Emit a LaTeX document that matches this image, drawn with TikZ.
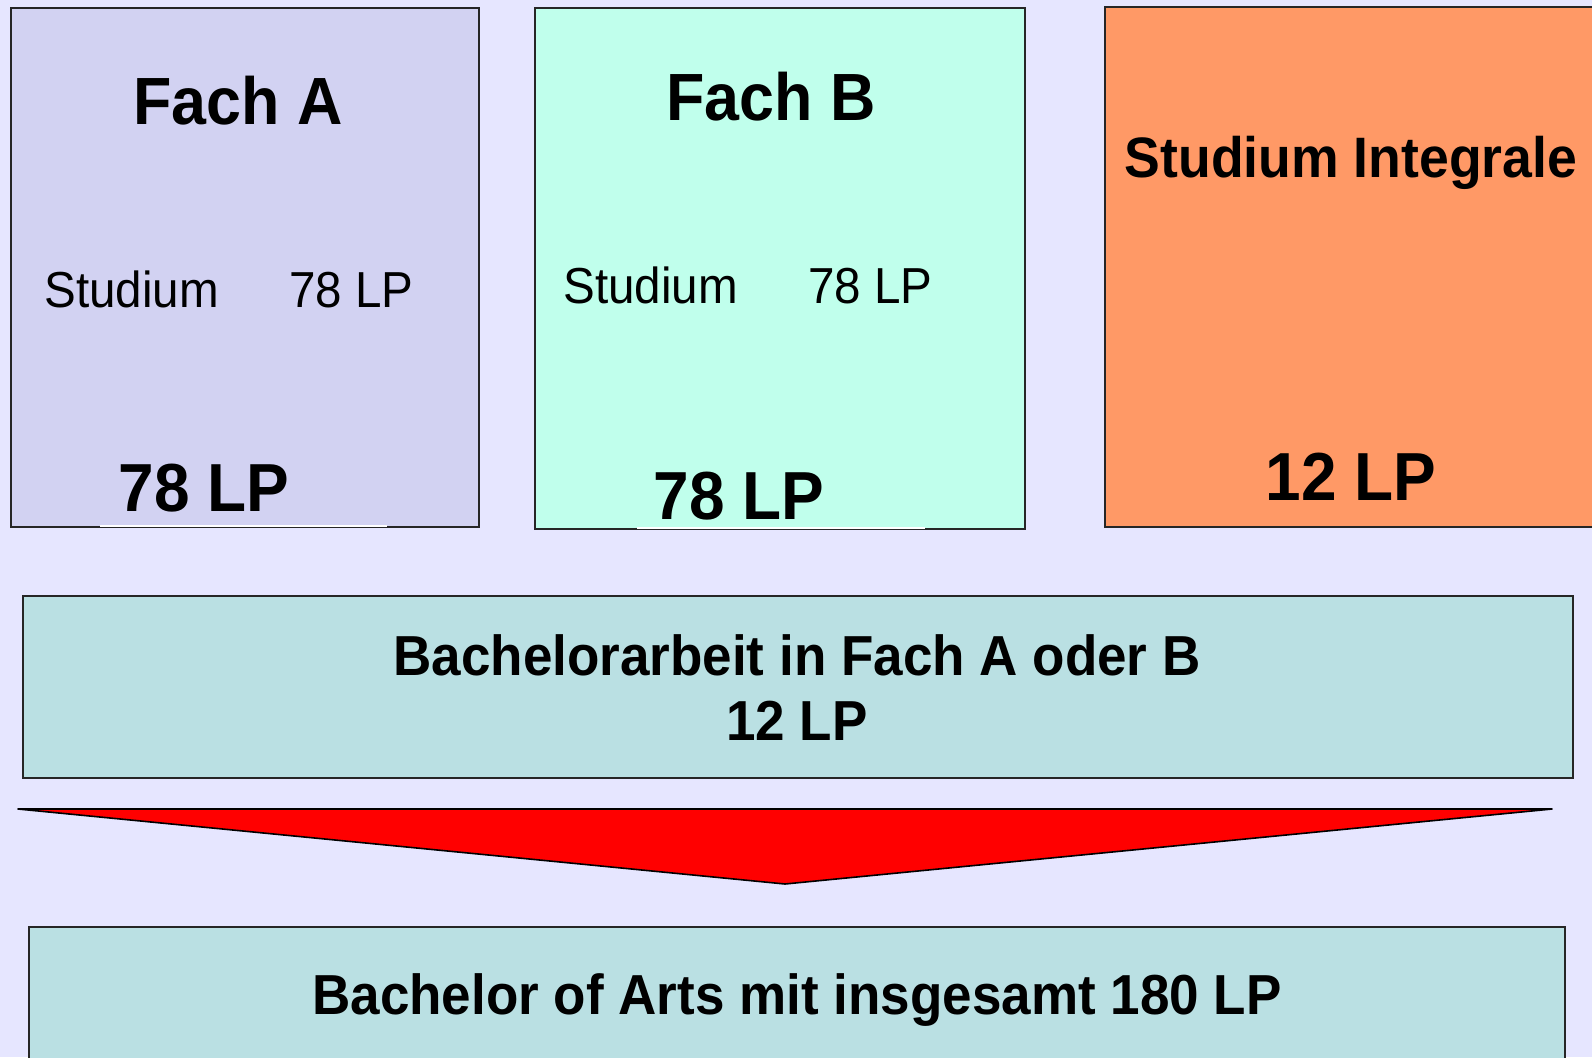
\documentclass[tikz,border=0pt]{standalone}
\usepackage{fontspec}
\setmainfont[FakeStretch=0.94]{Liberation Sans}
\usepackage{xcolor}
\definecolor{bglila}{RGB}{230,230,255}
\definecolor{fachAfill}{RGB}{210,210,242}
\definecolor{fachBfill}{RGB}{192,255,236}
\definecolor{integfill}{RGB}{255,153,102}
\definecolor{bafill}{RGB}{186,224,227}

\begin{document}
\begin{tikzpicture}[x=0.5pt, y=-0.5pt]
            \tikzset{box/.style={draw=black!85, line width=0.8pt, inner sep=0pt, anchor=north west},
                     head/.style={anchor=base, font=\bfseries\fontsize{33.4}{36}\selectfont},
                     sub/.style={anchor=base west, inner sep=0pt, font=\fontsize{25.3}{28}\selectfont},
                     lp/.style={anchor=base, font=\bfseries\fontsize{34}{38}\selectfont},
                     ba/.style={anchor=base, font=\bfseries\fontsize{28.2}{32}\selectfont}}
            \clip (0, 0) rectangle (1592, 1057);
            \fill[bglila] (0, 0) rectangle (1592, 1057);
            \node[box, fill=fachAfill, minimum width=234pt, minimum height=259.5pt] (fachA) at (10, 7) {};
            \node[box, fill=fachBfill, minimum width=245pt, minimum height=260.5pt] (fachB) at (534, 7) {};
            \node[box, fill=integfill, minimum width=260pt, minimum height=260pt] (integ) at (1104, 6) {};
            \node[box, fill=bafill, minimum width=775pt, minimum height=91pt] (arbeit) at (22, 595) {};
            \node[box, fill=bafill, minimum width=768pt, minimum height=80pt] (abschluss) at (28, 926) {};
            \draw[white, line width=0.8pt] (100, 526) -- (387, 526);
            \draw[white, line width=0.8pt] (637, 528) -- (925, 528);
            \draw[fill=red, line width=0.8pt, line join=round] (18, 809) -- (1552, 809) -- (785, 884) -- cycle;
            \node[head] (titelA) at (238, 124) {Fach A};
            \node[head] (titelB) at (771, 120) {Fach B};
            \node[sub] (studA) at (44, 307) {Studium};
            \node[sub] (lpA) at (289, 307) {78 LP};
            \node[sub] (studB) at (563, 303) {Studium};
            \node[sub] (lpB) at (808, 303) {78 LP};
            \node[lp] (summeA) at (204, 511) {78 LP};
            \node[lp] (summeB) at (739, 519) {78 LP};
            \node[anchor=base, font=\bfseries\fontsize{28.5}{32}\selectfont] (titelI) at (1351, 177) {Studium Integrale};
            \node[lp] (summeI) at (1351, 500) {12 LP};
            \node[ba] (arbeitA) at (797, 675) {Bachelorarbeit in Fach A oder B};
            \node[ba] (arbeitB) at (797, 740) {12 LP};
            \node[ba] (gesamt) at (797, 1014) {Bachelor of Arts mit insgesamt 180 LP};
        \end{tikzpicture}
\end{document}
